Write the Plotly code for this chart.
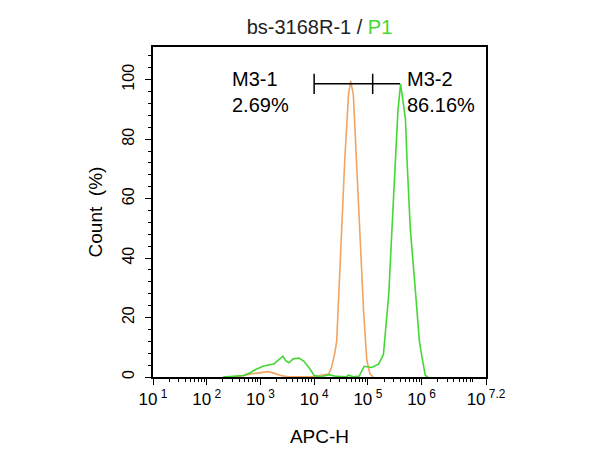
import numpy as np
import plotly.graph_objects as go

# ---- data (x given as log10 of APC-H, y as Count %) ----
orange_logx = [2.45, 2.63, 2.82, 3.01, 3.14, 3.25, 3.38, 3.51, 3.95, 4.08, 4.27, 4.32, 4.38, 4.42,
               4.51, 4.57, 4.64, 4.68, 4.73, 4.79, 4.85, 4.92, 4.98, 5.04, 5.10]
orange_y = [0.0, 0.3, 1.0, 1.5, 1.8, 1.3, 0.5, 0.1, 0.1, 0.4, 1.0, 3.0, 7.6, 12.0,
            50.0, 72.8, 95.0, 99.6, 95.0, 72.8, 50.0, 22.5, 5.7, 1.0, 0.0]

green_logx = [2.30, 2.44, 2.69, 2.82, 2.91, 3.06, 3.25, 3.42, 3.47, 3.53, 3.61, 3.72, 3.81, 3.91,
              4.00, 4.13, 4.28, 4.41, 4.60, 4.64, 4.73, 4.84, 4.88, 4.93, 5.07, 5.20, 5.29, 5.31,
              5.39, 5.45, 5.51, 5.56, 5.61, 5.70, 5.73, 5.79, 5.89, 5.96, 6.01, 6.07, 6.12]
green_y = [0.0, 0.2, 0.5, 1.5, 2.5, 3.7, 4.4, 7.0, 5.5, 4.8, 6.1, 6.4, 5.3, 3.0,
           0.5, 0.1, 0.8, 0.2, 0.1, 0.6, 0.1, 0.3, 2.0, 3.6, 3.2, 4.3, 7.5, 12.0,
           28.0, 50.0, 72.8, 89.6, 98.6, 86.8, 72.8, 50.0, 28.0, 12.0, 6.5, 0.5, 0.0]

gate_logx = [4.00, 5.09, 5.60]   # M3-1 start, M3-1/M3-2 split, line end
gate_y = 98.6
gate_cap = 3.4

labels = ["M3-1<br>2.69%", "M3-2<br>86.16%"]
label_logx = [2.44, 5.69]
label_y = 95.9

xtick_exp = [1, 2, 3, 4, 5, 6, 7.2]
xtick_text = ["10<sup> 1</sup>", "10<sup> 2</sup>", "10<sup> 3</sup>", "10<sup> 4</sup>",
              "10<sup> 5</sup>", "10<sup> 6</sup>", "10<sup> 7.2</sup>"]

ORANGE = "#F2A462"
GREEN = "#44D834"
FONT = "Liberation Sans, Arial, sans-serif"

fig = go.Figure()
fig.add_trace(go.Scatter(x=np.power(10.0, orange_logx), y=orange_y, mode="lines",
                         line=dict(color=ORANGE, width=1.6), hoverinfo="skip"))
fig.add_trace(go.Scatter(x=np.power(10.0, green_logx), y=green_y, mode="lines",
                         line=dict(color=GREEN, width=1.6), hoverinfo="skip"))

# gate line and caps
gx = np.power(10.0, gate_logx)
fig.add_trace(go.Scatter(x=[gx[0], gx[2]], y=[gate_y, gate_y], mode="lines",
                         line=dict(color="black", width=1.5), hoverinfo="skip"))
for v in gx[:2]:
    fig.add_trace(go.Scatter(x=[v, v], y=[gate_y - gate_cap, gate_y + gate_cap], mode="lines",
                             line=dict(color="black", width=1.5), hoverinfo="skip"))

for t, lx in zip(labels, label_logx):
    fig.add_annotation(x=lx, y=label_y, xref="x", yref="y", text=t, showarrow=False,
                       xanchor="left", yanchor="middle", align="left",
                       font=dict(family=FONT, size=20, color="black"))

minor_x = [m * 10.0 ** k for k in range(1, 8) for m in range(2, 10) if m * 10.0 ** k < 10 ** 7.2]

# page body has an 8px margin, so the margins are shifted to compensate
fig.update_layout(
    width=600, height=450,
    margin=dict(l=145, r=122, t=39, b=81),
    paper_bgcolor="white", plot_bgcolor="white",
    showlegend=False,
    title=dict(text="bs-3168R-1 / <span style='color:#44D834'>P1</span>",
               x=(145 + 478) / 2 / 600, xanchor="center", y=1 - 19 / 450, yanchor="middle",
               font=dict(family=FONT, size=20, color="#222222")),
    font=dict(family=FONT, color="black"),
)
fig.update_xaxes(type="log", range=[1, 7.2], showgrid=False, zeroline=False,
                 showline=True, linecolor="black", linewidth=1.5, mirror=True,
                 ticks="outside", ticklen=6, tickwidth=1.2, tickcolor="black",
                 tickvals=[10.0 ** e for e in xtick_exp], ticktext=xtick_text,
                 tickfont=dict(family=FONT, size=17, color="black"),
                 minor=dict(tickvals=minor_x, ticks="outside", ticklen=3, tickcolor="black",
                            showgrid=False),
                 title=dict(text="APC-H", font=dict(family=FONT, size=19, color="black"), standoff=22))
fig.update_yaxes(range=[0, 111], showgrid=False, zeroline=False,
                 showline=True, linecolor="black", linewidth=1.5, mirror=True,
                 ticks="outside", ticklen=6, tickwidth=1.2, tickcolor="black",
                 tickvals=[0, 20, 40, 60, 80, 100], tickangle=-90, ticklabelstandoff=5,
                 tickfont=dict(family=FONT, size=16, color="black"),
                 minor=dict(dtick=4, tick0=0, ticks="outside", ticklen=3, tickcolor="black",
                            showgrid=False),
                 title=dict(text="Count  (%)", font=dict(family=FONT, size=19, color="black"), standoff=12))

fig.write_html("out.html")
